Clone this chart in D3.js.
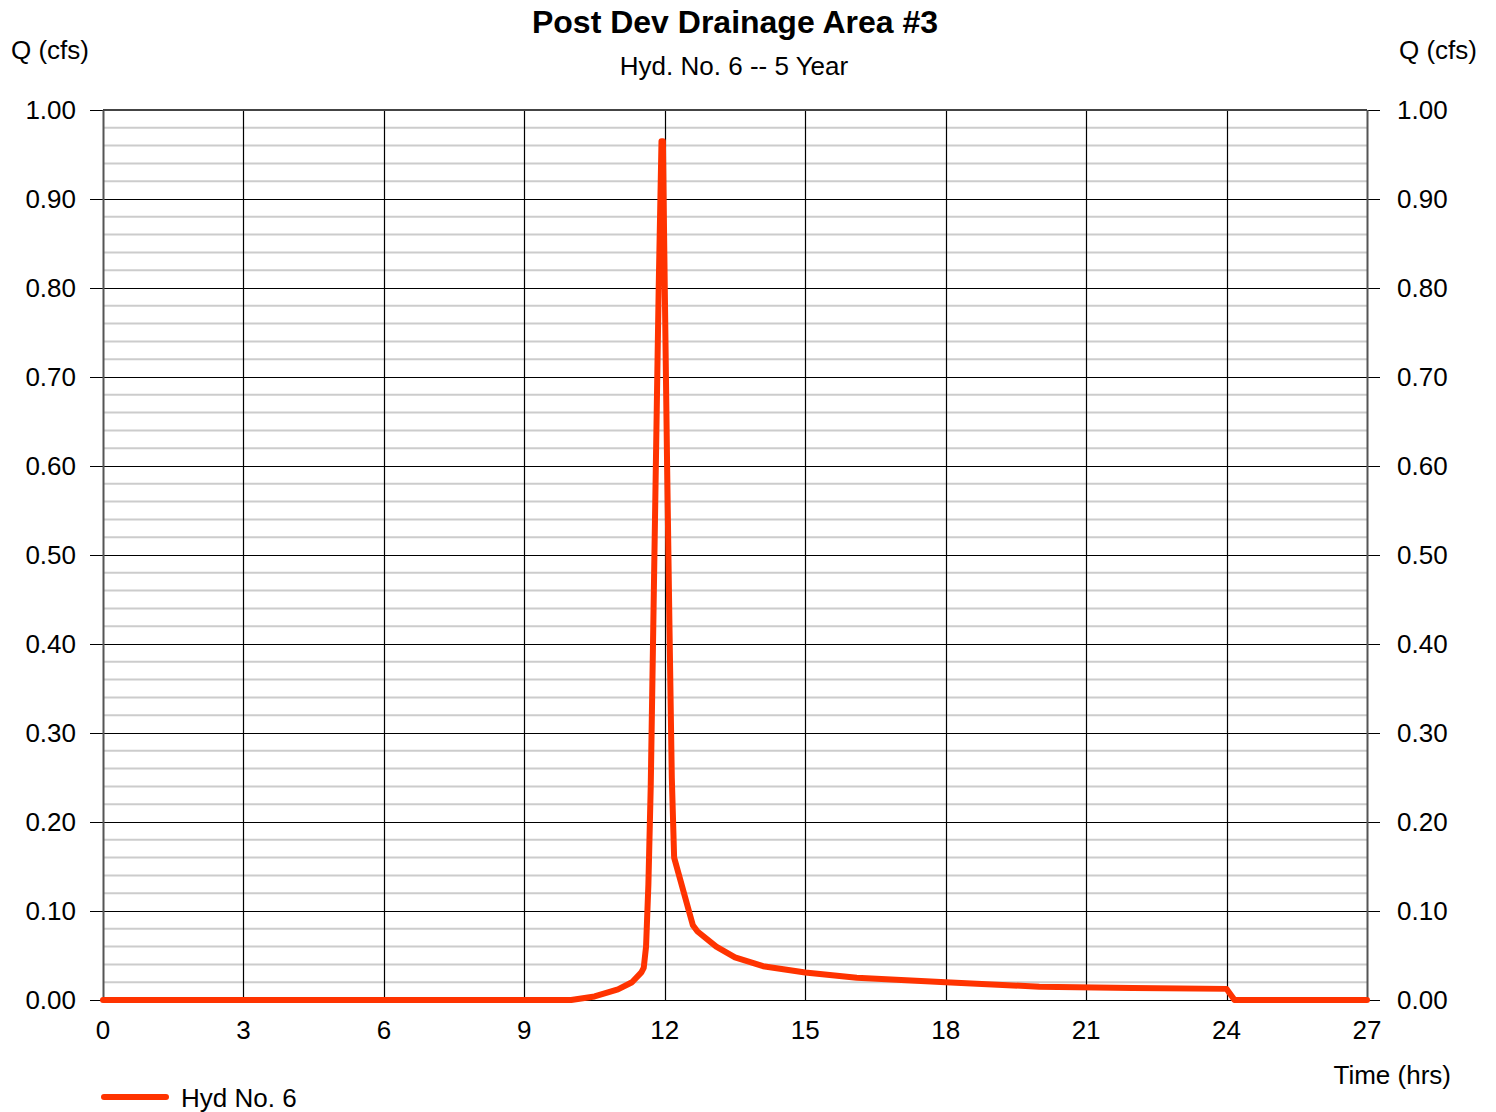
<!DOCTYPE html>
<html lang="en">
<head>
<meta charset="UTF-8">
<title>Post Dev Drainage Area #3</title>
<script src="https://d3js.org/d3.v7.min.js"></script>
<style>
  body { margin: 0; background: #fff; }
  text { font-family: "Liberation Sans", Arial, sans-serif; fill: #000; }
</style>
</head>
<body>
<svg id="chart" width="1496" height="1112"></svg>
<script>
// hydrograph data
const timeHrs = [0, 9.8, 10.0, 10.5, 11.0, 11.3, 11.5, 11.55, 11.6, 11.65, 11.7, 11.8, 11.87, 11.93,
  11.96, 12.0, 12.05, 12.1, 12.15, 12.2, 12.6, 12.7, 13.1, 13.5, 14.1, 15.0, 16.1, 18.0, 20.0, 22.0, 24.0, 24.17, 27];
const flowCfs = [0, 0, 0, 0.004, 0.012, 0.02, 0.031, 0.036, 0.06, 0.13, 0.24, 0.57, 0.8, 0.965,
  0.965, 0.8, 0.6, 0.42, 0.25, 0.16, 0.084, 0.077, 0.06, 0.048, 0.038, 0.031, 0.025, 0.02, 0.015, 0.0135, 0.0125, 0, 0];
const xTicks = [0, 3, 6, 9, 12, 15, 18, 21, 24, 27];
const yTicks = [0, 0.1, 0.2, 0.3, 0.4, 0.5, 0.6, 0.7, 0.8, 0.9, 1.0];
const yMinor = d3.range(0, 1.0001, 0.02);

const svg = d3.select("#chart");
const plotL = 103, plotR = 1367, plotT = 110, plotB = 1000;
const fs = 26;

const x = d3.scaleLinear().domain([0, 27]).range([plotL, plotR]);
const y = d3.scaleLinear().domain([0, 1]).range([plotB, plotT]);

// minor grid
svg.append("g").selectAll("line")
  .data(yMinor.filter(v => Math.round(v * 50) % 5 !== 0))
  .enter().append("line")
  .attr("x1", plotL).attr("x2", plotR)
  .attr("y1", d => y(d)).attr("y2", d => y(d))
  .attr("stroke", "#cccccc").attr("stroke-width", 2);

// major horizontal grid with outside ticks
svg.append("g").selectAll("line")
  .data(yTicks)
  .enter().append("line")
  .attr("x1", plotL - 13).attr("x2", plotR + 13)
  .attr("y1", d => Math.round(y(d)) + 0.5).attr("y2", d => Math.round(y(d)) + 0.5)
  .attr("stroke", "#000").attr("stroke-width", 1.2);

// vertical grid
svg.append("g").selectAll("line")
  .data(xTicks)
  .enter().append("line")
  .attr("x1", d => Math.round(x(d)) + 0.5).attr("x2", d => Math.round(x(d)) + 0.5)
  .attr("y1", plotT).attr("y2", plotB)
  .attr("stroke", d => (d === 0 || d === 27) ? "#555" : "#000")
  .attr("stroke-width", d => (d === 0 || d === 27) ? 2 : 1.2);

// top border
svg.append("line")
  .attr("x1", plotL).attr("x2", plotR).attr("y1", plotT).attr("y2", plotT)
  .attr("stroke", "#444").attr("stroke-width", 2);

// tick labels
svg.append("g").selectAll("text")
  .data(yTicks).enter().append("text")
  .attr("x", 76).attr("y", d => y(d) + 9)
  .attr("text-anchor", "end").attr("font-size", fs)
  .text(d => d.toFixed(2));
svg.append("g").selectAll("text")
  .data(yTicks).enter().append("text")
  .attr("x", 1397).attr("y", d => y(d) + 9)
  .attr("text-anchor", "start").attr("font-size", fs)
  .text(d => d.toFixed(2));
svg.append("g").selectAll("text")
  .data(xTicks).enter().append("text")
  .attr("x", d => x(d)).attr("y", 1039)
  .attr("text-anchor", "middle").attr("font-size", fs)
  .text(d => d);

// the hydrograph line
const line = d3.line().x((d, i) => x(timeHrs[i])).y(d => y(d));
svg.append("path")
  .datum(flowCfs)
  .attr("d", line)
  .attr("fill", "none")
  .attr("stroke", "#ff3300")
  .attr("stroke-width", 6)
  .attr("stroke-linejoin", "round")
  .attr("stroke-linecap", "round");

// titles
svg.append("text").attr("x", 735).attr("y", 33).attr("text-anchor", "middle")
  .attr("font-size", 32).attr("font-weight", "bold").text("Post Dev Drainage Area #3");
svg.append("text").attr("x", 734).attr("y", 75).attr("text-anchor", "middle")
  .attr("font-size", fs).text("Hyd. No. 6 -- 5 Year");
svg.append("text").attr("x", 11).attr("y", 59).attr("font-size", fs).text("Q (cfs)");
svg.append("text").attr("x", 1477).attr("y", 59).attr("text-anchor", "end")
  .attr("font-size", fs).text("Q (cfs)");
svg.append("text").attr("x", 1451).attr("y", 1084).attr("text-anchor", "end")
  .attr("font-size", fs).text("Time (hrs)");

// legend
svg.append("line").attr("x1", 104).attr("x2", 166).attr("y1", 1097).attr("y2", 1097)
  .attr("stroke", "#ff3300").attr("stroke-width", 6).attr("stroke-linecap", "round");
svg.append("text").attr("x", 181).attr("y", 1107).attr("font-size", fs).text("Hyd No. 6");
</script>
</body>
</html>
